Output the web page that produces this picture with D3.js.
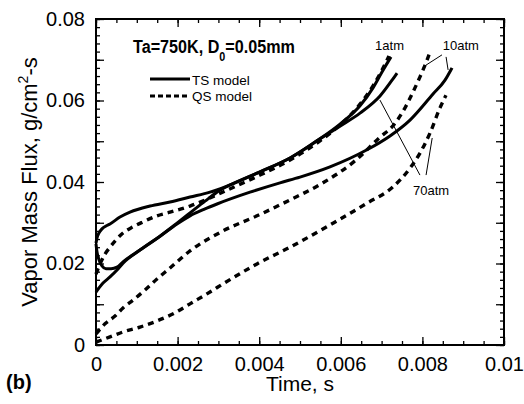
<!DOCTYPE html>
<html>
<head>
<meta charset="utf-8">
<script src="https://cdn.jsdelivr.net/npm/d3@7"></script>
<style>
  html, body { margin: 0; padding: 0; background: #fff; }
  svg { display: block; }
  text { font-family: "Liberation Sans", Arial, Helvetica, sans-serif; fill: #000; }
</style>
</head>
<body>
<svg id="chart" width="524" height="404"></svg>
<script>
// Vapor mass flux vs. time, Ta = 750 K, D0 = 0.05 mm
// Time in s, flux in g/cm^2-s

// TS model (transient), 1 atm
const ts1Time = [0, 0.000025, 0.000074, 0.000147, 0.000245, 0.000343, 0.000588, 0.000833, 0.001324, 0.001814, 0.002304, 0.002794, 0.003211, 0.00402, 0.004755, 0.00549, 0.00598, 0.006471, 0.006789, 0.00701, 0.00723];
const ts1Flux = [0.0250, 0.0263, 0.0275, 0.0285, 0.0292, 0.0297, 0.0314, 0.0326, 0.0341, 0.0351, 0.0363, 0.0375, 0.0390, 0.0425, 0.0459, 0.0506, 0.0542, 0.0587, 0.0631, 0.0670, 0.0707];

// TS model, 70 atm
const ts70Time = [0, 0.000025, 0.000074, 0.000147, 0.000245, 0.000368, 0.000515, 0.000662, 0.001078, 0.001569, 0.001985, 0.002304, 0.002672, 0.003039, 0.003333, 0.00402, 0.004755, 0.00549, 0.00598, 0.006471, 0.006961, 0.007279, 0.007377];
const ts70Flux = [0.0248, 0.0228, 0.0209, 0.0194, 0.0187, 0.0187, 0.0191, 0.0204, 0.0233, 0.0267, 0.0299, 0.0324, 0.0353, 0.0380, 0.0395, 0.0425, 0.0459, 0.0506, 0.0537, 0.0569, 0.0611, 0.0653, 0.0667];

// TS model, 10 atm
const ts10Time = [0, 0.000074, 0.000172, 0.000343, 0.000515, 0.000662, 0.001078, 0.001569, 0.001985, 0.002304, 0.002672, 0.002966, 0.003775, 0.00451, 0.005, 0.005735, 0.006642, 0.007206, 0.007696, 0.00826, 0.008554, 0.008725];
const ts10Flux = [0.0130, 0.0140, 0.0152, 0.0167, 0.0184, 0.0201, 0.0233, 0.0267, 0.0297, 0.0317, 0.0334, 0.0346, 0.0375, 0.0398, 0.0412, 0.0437, 0.0479, 0.0513, 0.0552, 0.0616, 0.0650, 0.0680];

// QS model (quasi-steady), 1 atm
const qs1Time = [0, 0.000049, 0.000123, 0.000221, 0.000343, 0.00049, 0.000662, 0.000907, 0.001152, 0.001495, 0.001814, 0.002304, 0.002794, 0.003211, 0.00402, 0.004755, 0.00549, 0.00598, 0.006471, 0.006789, 0.006985, 0.007181];
const qs1Flux = [0.0174, 0.0187, 0.0204, 0.0223, 0.0240, 0.0258, 0.0275, 0.0290, 0.0302, 0.0317, 0.0326, 0.0341, 0.0361, 0.0380, 0.0417, 0.0454, 0.0501, 0.0540, 0.0591, 0.0636, 0.0670, 0.0709];

// QS model, 10 atm
const qs10Time = [0, 0.000221, 0.000466, 0.000662, 0.000907, 0.001201, 0.001495, 0.001814, 0.002304, 0.003113, 0.003946, 0.004755, 0.005564, 0.006348, 0.006961, 0.007279, 0.007574, 0.00777, 0.007941, 0.008113, 0.008186];
const qs10Flux = [0.0027, 0.0052, 0.0071, 0.0091, 0.0110, 0.0135, 0.0162, 0.0189, 0.0231, 0.0280, 0.0317, 0.0356, 0.0398, 0.0452, 0.0510, 0.0538, 0.0582, 0.0621, 0.0658, 0.0699, 0.0719];

// QS model, 70 atm
const qs70Time = [0, 0.000343, 0.000662, 0.001078, 0.001495, 0.001936, 0.002304, 0.002794, 0.003113, 0.003946, 0.004755, 0.005809, 0.006642, 0.007279, 0.007696, 0.007941, 0.008186, 0.008431, 0.008578];
const qs70Flux = [0.0007, 0.0020, 0.0032, 0.0044, 0.0059, 0.0079, 0.0101, 0.0130, 0.0150, 0.0199, 0.0240, 0.0299, 0.0348, 0.0388, 0.0434, 0.0471, 0.0520, 0.0582, 0.0613];

// Axis ticks
const xMajorTicks = [0, 0.002, 0.004, 0.006, 0.008, 0.01];
const xTickLabels = ["0", "0.002", "0.004", "0.006", "0.008", "0.01"];
const yLabelTicks = [0, 0.02, 0.04, 0.06, 0.08];
const yTickLabels = ["0", "0.02", "0.04", "0.06", "0.08"];

// Pressure labels and their leader lines, in data units
const pressureLabels = [
  { text: "1atm",  t: 0.00684, v: 0.0724 },
  { text: "10atm", t: 0.00850, v: 0.0724 },
  { text: "70atm", t: 0.00777, v: 0.0368 }
];
const leaders = [
  [[0.00848, 0.0712], [0.00806, 0.0685]],
  [[0.00858, 0.0707], [0.00863, 0.0675]],
  [[0.00794, 0.0417], [0.00696, 0.0601]],
  [[0.00809, 0.0417], [0.00824, 0.0508]]
];

const series = [
  { t: qs70Time, v: qs70Flux, dashed: true },
  { t: qs10Time, v: qs10Flux, dashed: true },
  { t: ts10Time, v: ts10Flux, dashed: false },
  { t: ts70Time, v: ts70Flux, dashed: false },
  { t: qs1Time,  v: qs1Flux,  dashed: true },
  { t: ts1Time,  v: ts1Flux,  dashed: false }
];

const margin = { left: 96, right: 20, top: 19, bottom: 59 };
const W = 524, H = 404;
const svg = d3.select("#chart");

const x = d3.scaleLinear().domain([0, 0.01]).range([margin.left, W - margin.right]);
const y = d3.scaleLinear().domain([0, 0.08]).range([H - margin.bottom, margin.top]);

const xMinor = d3.range(0, 0.01 + 1e-9, 0.0005);
const yMinor = d3.range(0, 0.08 + 1e-9, 0.002);
const yMajor = d3.range(0, 0.08 + 1e-9, 0.01);

const plotH = y(0) - y(0.08);
const plotW = x(0.01) - x(0);

function styleAxis(g) {
  g.select(".domain").remove();
  g.selectAll(".tick line").attr("stroke", "#000").attr("stroke-width", 1.3);
}

// Bottom axis
svg.append("g").attr("transform", `translate(0,${y(0)})`)
  .call(d3.axisBottom(x).tickValues(xMinor).tickSize(-4).tickFormat(""))
  .call(styleAxis);
svg.append("g").attr("transform", `translate(0,${y(0)})`)
  .call(d3.axisBottom(x).tickValues(xMajorTicks).tickSize(-8).tickPadding(12)
    .tickFormat((d, i) => xTickLabels[i]))
  .call(styleAxis)
  .call(g => g.selectAll("text").attr("font-size", 20).attr("fill", "#000"));

// Top axis (mirrored ticks)
svg.append("g").attr("transform", `translate(0,${y(0.08)})`)
  .call(d3.axisTop(x).tickValues(xMinor).tickSize(-4).tickFormat(""))
  .call(styleAxis);
svg.append("g").attr("transform", `translate(0,${y(0.08)})`)
  .call(d3.axisTop(x).tickValues(xMajorTicks).tickSize(-8).tickFormat(""))
  .call(styleAxis);

// Left axis
svg.append("g").attr("transform", `translate(${x(0)},0)`)
  .call(d3.axisLeft(y).tickValues(yMinor).tickSize(-4).tickFormat(""))
  .call(styleAxis);
svg.append("g").attr("transform", `translate(${x(0)},0)`)
  .call(d3.axisLeft(y).tickValues(yMajor).tickSize(-8).tickFormat(""))
  .call(styleAxis);
svg.append("g").attr("transform", `translate(${x(0)},0)`)
  .call(d3.axisLeft(y).tickValues(yLabelTicks).tickSize(0).tickPadding(11)
    .tickFormat((d, i) => yTickLabels[i]))
  .call(styleAxis)
  .call(g => g.selectAll("text").attr("font-size", 20).attr("fill", "#000"));

// Right axis (mirrored ticks)
svg.append("g").attr("transform", `translate(${x(0.01)},0)`)
  .call(d3.axisRight(y).tickValues(yMinor).tickSize(-4).tickFormat(""))
  .call(styleAxis);
svg.append("g").attr("transform", `translate(${x(0.01)},0)`)
  .call(d3.axisRight(y).tickValues(yMajor).tickSize(-8).tickFormat(""))
  .call(styleAxis);

// Frame
svg.append("rect")
  .attr("x", x(0)).attr("y", y(0.08))
  .attr("width", plotW).attr("height", plotH)
  .attr("fill", "none").attr("stroke", "#000").attr("stroke-width", 2);

// Curves
const line = d3.line()
  .x(d => x(d[0]))
  .y(d => y(d[1]))
  .curve(d3.curveMonotoneX);

svg.append("g").selectAll("path")
  .data(series)
  .join("path")
  .attr("d", s => line(s.t.map((t, i) => [t, s.v[i]])))
  .attr("fill", "none")
  .attr("stroke", "#000")
  .attr("stroke-width", d => d.dashed ? 3.4 : 3)
  .attr("stroke-dasharray", d => d.dashed ? "6,5" : null)
  .attr("stroke-linecap", "butt")
  .attr("stroke-linejoin", "round");

// Leader lines
svg.append("g").selectAll("line")
  .data(leaders)
  .join("line")
  .attr("x1", d => x(d[0][0])).attr("y1", d => y(d[0][1]))
  .attr("x2", d => x(d[1][0])).attr("y2", d => y(d[1][1]))
  .attr("stroke", "#000").attr("stroke-width", 1);

// Pressure labels
svg.append("g").selectAll("text")
  .data(pressureLabels)
  .join("text")
  .attr("x", d => x(d.t)).attr("y", d => y(d.v))
  .attr("font-size", 13)
  .text(d => d.text);

// Condition heading
const head = svg.append("text")
  .attr("font-size", 18).attr("font-weight", "bold");
head.append("tspan").text("Ta=750K, D");
head.append("tspan").attr("font-size", 12).attr("dy", 8).text("0");
head.append("tspan").attr("dy", -8).text("=0.05mm");
{
  const w = head.node().getComputedTextLength();
  const sx = 162 / w;
  head.attr("transform", `translate(133,53) scale(${sx},1)`);
}

// Legend
const legend = svg.append("g");
legend.append("line").attr("x1", 150).attr("x2", 190).attr("y1", 79).attr("y2", 79)
  .attr("stroke", "#000").attr("stroke-width", 3);
legend.append("text").attr("x", 192).attr("y", 85).attr("font-size", 13.5).text("TS model");
legend.append("line").attr("x1", 150).attr("x2", 190).attr("y1", 96).attr("y2", 96)
  .attr("stroke", "#000").attr("stroke-width", 3.2).attr("stroke-dasharray", "5,3");
legend.append("text").attr("x", 192).attr("y", 101).attr("font-size", 13.5).text("QS model");

// Axis titles
svg.append("text")
  .attr("x", (x(0) + x(0.01)) / 2).attr("y", 391)
  .attr("text-anchor", "middle").attr("font-size", 21)
  .text("Time, s");

const yt = svg.append("text")
  .attr("transform", `translate(37,${(y(0) + y(0.08)) / 2}) rotate(-90)`)
  .attr("text-anchor", "middle").attr("font-size", 22);
yt.append("tspan").text("Vapor Mass Flux, g/cm");
yt.append("tspan").attr("font-size", 14).attr("dy", -9).text("2");
yt.append("tspan").attr("dy", 9).text("-s");

// Panel tag
svg.append("text").attr("x", 6).attr("y", 389)
  .attr("font-size", 20).attr("font-weight", "bold").text("(b)");
</script>
</body>
</html>
